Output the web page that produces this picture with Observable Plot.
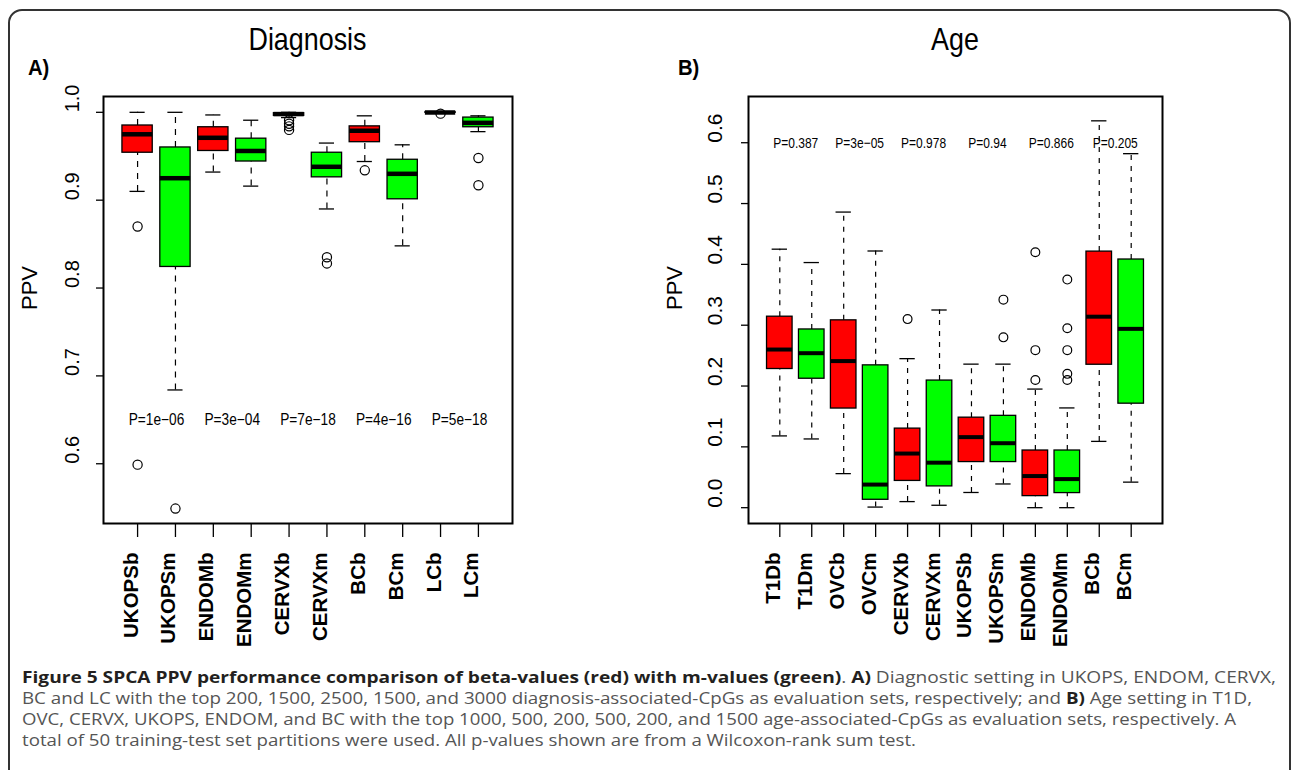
<!DOCTYPE html>
<html>
<head>
<meta charset="utf-8">
<script src="https://cdn.jsdelivr.net/npm/d3@7"></script>
<script src="https://cdn.jsdelivr.net/npm/@observablehq/plot@0.6"></script>
<style>
  html, body { margin: 0; padding: 0; background: #fff; width: 1292px; height: 770px; overflow: hidden; }
  #stage { position: relative; width: 1292px; height: 770px; }
  .abs { position: absolute; }
  .frame-border { position: absolute; left: 8px; top: 9px; width: 1283px; height: 820px; box-sizing: border-box;
    border: 2px solid #333; border-radius: 14px; }
  .title { font-family: "Liberation Sans", Arial, sans-serif; font-size: 32px; line-height: 32px; color: #000; text-align: center;
    transform: scaleX(0.84); transform-origin: center; }
  .tag { font-family: "Liberation Sans", Arial, sans-serif; font-weight: bold; font-size: 22px; line-height: 22px; color: #000;
    transform: scaleX(0.92); transform-origin: left; }
  .capline { position: absolute; font-family: "Open Sans", sans-serif; font-size: 16px; line-height: 20px; color: #555;
    white-space: nowrap; transform-origin: left top; }
  .capline b { color: #231f20; }
  svg.plot { max-width: none !important; background: transparent !important; }
</style>
</head>
<body>
<div id="stage">
  <div class="frame-border"></div>
  <div class="abs title" style="left:0px; width:615px; top:23px;">Diagnosis</div>
  <div class="abs title" style="left:648px; width:614px; top:23px;">Age</div>
  <div class="abs tag" style="left:28px; top:57px;">A)</div>
  <div class="abs tag" style="left:678px; top:57px;">B)</div>
  <div id="left" class="abs" style="left:0px; top:0px;"></div>
  <div id="right" class="abs" style="left:646px; top:0px;"></div>
  <div class="capline" data-end="1276" style="left:22px; top:667px;"><b>Figure 5 SPCA PPV performance comparison of beta-values (red) with m-values (green)</b>. <b>A)</b> Diagnostic setting in UKOPS, ENDOM, CERVX,</div>
  <div class="capline" data-end="1252" style="left:22px; top:688px;">BC and LC with the top 200, 1500, 2500, 1500, and 3000 diagnosis-associated-CpGs as evaluation sets, respectively; and <b>B)</b> Age setting in T1D,</div>
  <div class="capline" data-end="1236" style="left:22px; top:709px;">OVC, CERVX, UKOPS, ENDOM, and BC with the top 1000, 500, 200, 500, 200, and 1500 age-associated-CpGs as evaluation sets, respectively. A</div>
  <div class="capline" data-end="916" style="left:22px; top:730px;">total of 50 training-test set partitions were used. All p-values shown are from a Wilcoxon-rank sum test.</div>
</div>
<script>
// ---------- Data: Diagnosis panel ----------
const diagCats = ["UKOPSb","UKOPSm","ENDOMb","ENDOMm","CERVXb","CERVXm","BCb","BCm","LCb","LCm"];
const diagLo   = [0.910, 0.684, 0.932, 0.916, 0.994, 0.890, 0.944, 0.848, 0.9990, 0.978];
const diagQ1   = [0.954, 0.824, 0.956, 0.944, 0.996, 0.926, 0.966, 0.901, 0.9995, 0.983];
const diagMed  = [0.975, 0.925, 0.971, 0.956, 0.998, 0.938, 0.979, 0.930, 0.9998, 0.988];
const diagQ3   = [0.985, 0.960, 0.983, 0.970, 0.999, 0.954, 0.984, 0.946, 1.0000, 0.994];
const diagHi   = [1.000, 1.000, 0.997, 0.991, 1.000, 0.965, 0.996, 0.963, 1.0000, 0.996];
const diagOut  = [[0.870, 0.599], [0.549], [], [], [0.991, 0.987, 0.984, 0.980], [0.835, 0.828], [0.934], [], [0.9985], [0.948, 0.917]];
const diagP    = ["P=1e\u221206", "P=3e\u221204", "P=7e\u221218", "P=4e\u221216", "P=5e\u221218"];
const diagYTicks = [0.6, 0.7, 0.8, 0.9, 1.0];
const diagPY = 0.65;

// ---------- Data: Age panel ----------
const ageCats = ["T1Db","T1Dm","OVCb","OVCm","CERVXb","CERVXm","UKOPSb","UKOPSm","ENDOMb","ENDOMm","BCb","BCm"];
const ageLo   = [0.118, 0.113, 0.056, 0.001, 0.010, 0.004, 0.025, 0.039, 0.000, 0.000, 0.109, 0.042];
const ageQ1   = [0.228, 0.212, 0.163, 0.013, 0.044, 0.035, 0.075, 0.075, 0.019, 0.024, 0.235, 0.171];
const ageMed  = [0.260, 0.254, 0.241, 0.038, 0.089, 0.074, 0.116, 0.106, 0.052, 0.047, 0.314, 0.294];
const ageQ3   = [0.314, 0.293, 0.308, 0.234, 0.130, 0.209, 0.148, 0.151, 0.094, 0.094, 0.421, 0.408];
const ageHi   = [0.425, 0.403, 0.486, 0.422, 0.245, 0.325, 0.236, 0.236, 0.195, 0.164, 0.636, 0.582];
const ageOut  = [[], [], [], [], [0.310], [], [], [0.342, 0.280], [0.420, 0.259, 0.210], [0.375, 0.295, 0.259, 0.220, 0.210], [], []];
const ageP    = ["P=0.387", "P=3e\u221205", "P=0.978", "P=0.94", "P=0.866", "P=0.205"];
const ageYTicks = [0.0, 0.1, 0.2, 0.3, 0.4, 0.5, 0.6];
const agePY = 0.6;

const colorB = "#ff0000", colorM = "#00ff00";

function panel(cfg) {
  const rows = cfg.cats.map((c, i) => ({
    cat: c, pos: i + 1, lo: cfg.lo[i], q1: cfg.q1[i], med: cfg.med[i], q3: cfg.q3[i], hi: cfg.hi[i],
    fill: i % 2 === 0 ? colorB : colorM
  }));
  const outs = rows.flatMap((r, i) => cfg.out[i].map(v => ({pos: r.pos, v})));
  const pRows = cfg.p.map((t, k) => ({pos: 2 * k + 1.5, t}));
  const hw = 0.4, sw = cfg.staple;
  const svg = Plot.plot({
    width: cfg.width, height: 640,
    marginLeft: cfg.ml, marginRight: cfg.mr, marginTop: 96, marginBottom: 117,
    style: {background: "transparent", fontFamily: "Liberation Sans, Arial, sans-serif", overflow: "visible"},
    x: {type: "linear", domain: cfg.xdomain},
    y: {type: "linear", domain: cfg.ydomain},
    marks: [
      Plot.axisY({ticks: cfg.yticks, tickSize: 7, tickFormat: () => "", label: null, stroke: "#000", strokeWidth: 1.3}),
      Plot.axisX({ticks: rows.map(r => r.pos), tickSize: 14, tickFormat: () => "", label: null, stroke: "#000", strokeWidth: 1.3}),
      Plot.ruleX(rows, {x: "pos", y1: "q3", y2: "hi", stroke: "#000", strokeWidth: 1.2, strokeDasharray: cfg.dash}),
      Plot.ruleX(rows, {x: "pos", y1: "lo", y2: "q1", stroke: "#000", strokeWidth: 1.2, strokeDasharray: cfg.dash}),
      Plot.ruleY(rows, {y: "hi", x1: d => d.pos - sw, x2: d => d.pos + sw, stroke: "#000", strokeWidth: 1.3}),
      Plot.ruleY(rows, {y: "lo", x1: d => d.pos - sw, x2: d => d.pos + sw, stroke: "#000", strokeWidth: 1.3}),
      Plot.rect(rows, {x1: d => d.pos - hw, x2: d => d.pos + hw, y1: "q1", y2: "q3", fill: "fill", stroke: "#000", strokeWidth: 1.3}),
      Plot.ruleY(rows, {y: "med", x1: d => d.pos - hw, x2: d => d.pos + hw, stroke: "#000", strokeWidth: cfg.medW}),
      Plot.dot(outs, {x: "pos", y: "v", r: cfg.dotR, stroke: "#000", strokeWidth: 1.2, fill: "none"}),
      Plot.text(pRows, {x: "pos", y: () => cfg.py, text: "t", fontSize: cfg.pSize, fill: "#000", ariaLabel: "pvalue"}),
      Plot.text(cfg.yticks, {y: d => d, frameAnchor: "left", dx: cfg.ytdx, rotate: -90, text: d => d.toFixed(1), fontSize: cfg.tickSize, fill: "#000"}),
      Plot.text(rows, {x: "pos", frameAnchor: "bottom", dy: 29, rotate: -90, textAnchor: "end", text: "cat", fontSize: 20.5, fontWeight: "bold", fill: "#000"}),
      Plot.text(["PPV"], {frameAnchor: "left", dx: -74, rotate: -90, text: d => d, fontSize: 22, fill: "#000"}),
      Plot.frame({stroke: "#000", strokeWidth: 2})
    ]
  });
  // narrow the p-value labels horizontally, as in the original R output
  d3.select(svg).selectAll("text").filter(function () { return this.textContent.startsWith("P="); })
    .each(function () {
      const el = d3.select(this);
      const t = el.attr("transform");
      if (t) {
        el.attr("transform", t + ` scale(${cfg.pScale},1)`);
      } else {
        const x = +el.attr("x") || 0, y = +el.attr("y") || 0;
        el.attr("transform", `translate(${x},${y}) scale(${cfg.pScale},1) translate(${-x},${-y})`);
      }
    });
  return svg;
}

document.getElementById("left").appendChild(panel({
  cats: diagCats, lo: diagLo, q1: diagQ1, med: diagMed, q3: diagQ3, hi: diagHi, out: diagOut, p: diagP,
  yticks: diagYTicks, py: diagPY, width: 640, ml: 103, mr: 128,
  xdomain: [0.1, diagCats.length + 0.9], ydomain: [0.532, 1.018],
  staple: 0.2, dash: "6,6", medW: 4.5, dotR: 4.6, pSize: 16.3, pScale: 0.84, tickSize: 20, ytdx: -31
}));

document.getElementById("right").appendChild(panel({
  cats: ageCats, lo: ageLo, q1: ageQ1, med: ageMed, q3: ageQ3, hi: ageHi, out: ageOut, p: ageP,
  yticks: ageYTicks, py: agePY, width: 646, ml: 102, mr: 130,
  xdomain: [0.02, ageCats.length + 0.98], ydomain: [-0.026, 0.676],
  staple: 0.24, dash: "5,6", medW: 4, dotR: 4.4, pSize: 15, pScale: 0.8, tickSize: 21, ytdx: -33
}));

// fit each caption line to its measured extent in the original
document.querySelectorAll(".capline").forEach(el => {
  const left = parseFloat(el.style.left);
  const target = +el.dataset.end - left;
  const w = el.getBoundingClientRect().width;
  if (w > 0) el.style.transform = `scaleX(${target / w})`;
});
</script>
</body>
</html>
